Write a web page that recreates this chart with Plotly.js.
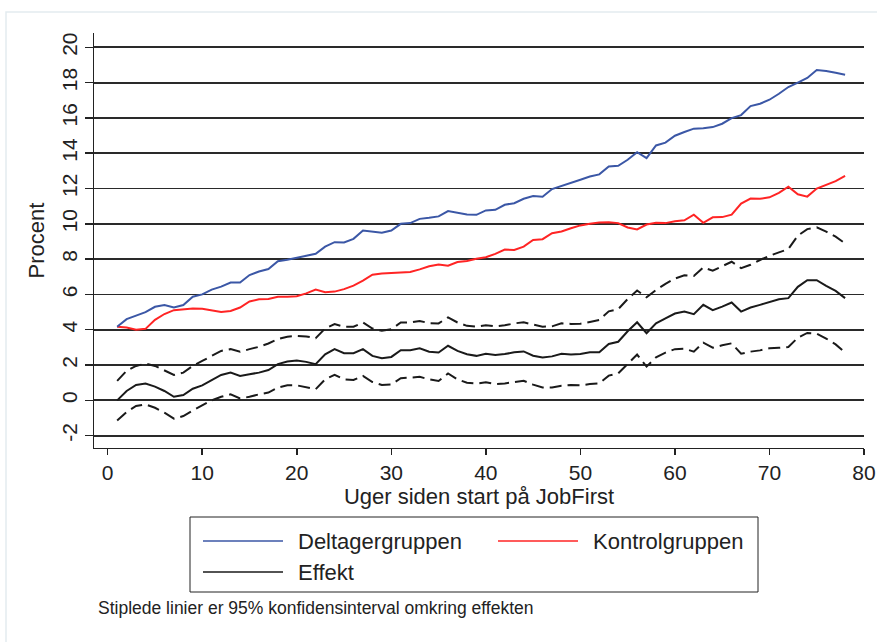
<!DOCTYPE html>
<html>
<head>
<meta charset="utf-8">
<script src="https://cdn.plot.ly/plotly-3.0.1.min.js"></script>
<style>html,body{margin:0;padding:0;background:#fff;}#chart{width:877px;height:642px;}</style>
</head>
<body>
<div id="chart"></div>
<script>
// Weeks since start at JobFirst
const weeks = [];
for (let w = 1; w <= 78; w++) weeks.push(w);

const deltagergruppen = [4.17,4.6,4.8,5.0,5.3,5.4,5.26,5.4,5.87,6.0,6.27,6.44,6.67,6.67,7.1,7.3,7.44,7.88,7.97,8.07,
  8.2,8.3,8.71,8.96,8.94,9.15,9.62,9.58,9.5,9.62,10.0,10.04,10.28,10.34,10.42,10.72,10.62,10.53,10.51,10.76,
  10.79,11.08,11.17,11.42,11.57,11.53,11.97,12.16,12.31,12.5,12.68,12.8,13.25,13.29,13.63,14.06,13.72,14.44,14.6,14.99,
  15.2,15.39,15.41,15.48,15.67,15.99,16.16,16.67,16.8,17.03,17.37,17.75,18.0,18.26,18.71,18.66,18.56,18.45];

const kontrolgruppen = [4.17,4.13,4.0,4.05,4.56,4.89,5.11,5.15,5.2,5.19,5.11,5.0,5.06,5.26,5.6,5.72,5.74,5.87,5.87,5.9,
  6.06,6.27,6.12,6.16,6.3,6.5,6.78,7.12,7.18,7.2,7.22,7.27,7.42,7.6,7.7,7.63,7.84,7.9,8.02,8.11,
  8.3,8.54,8.52,8.71,9.09,9.13,9.47,9.57,9.75,9.91,10.0,10.08,10.09,10.04,9.79,9.68,9.96,10.06,10.04,10.15,
  10.2,10.52,10.06,10.37,10.38,10.52,11.15,11.43,11.42,11.5,11.75,12.1,11.67,11.54,12.0,12.23,12.42,12.72];

const effekt = [0.0,0.53,0.87,0.95,0.78,0.53,0.2,0.3,0.66,0.85,1.14,1.44,1.57,1.38,1.48,1.57,1.72,2.05,2.2,2.25,
  2.18,2.05,2.61,2.9,2.67,2.67,2.9,2.52,2.39,2.46,2.84,2.84,2.95,2.75,2.71,3.09,2.8,2.61,2.52,2.64,
  2.57,2.62,2.72,2.77,2.53,2.43,2.49,2.64,2.59,2.62,2.72,2.72,3.19,3.32,3.91,4.42,3.8,4.36,4.64,4.92,
  5.03,4.88,5.41,5.11,5.31,5.54,5.03,5.26,5.41,5.58,5.73,5.79,6.43,6.81,6.81,6.49,6.2,5.79];

const ciUpper = [1.1,1.67,1.95,2.08,1.95,1.7,1.44,1.57,1.95,2.23,2.52,2.8,2.9,2.75,2.9,3.03,3.22,3.47,3.6,3.65,
  3.62,3.52,4.07,4.32,4.17,4.17,4.41,4.07,3.94,4.03,4.41,4.41,4.5,4.37,4.36,4.7,4.41,4.22,4.17,4.25,
  4.19,4.25,4.36,4.42,4.29,4.17,4.19,4.36,4.33,4.34,4.44,4.55,5.04,5.16,5.74,6.22,5.84,6.25,6.6,6.9,
  7.08,7.04,7.53,7.34,7.6,7.85,7.49,7.68,7.95,8.19,8.38,8.57,9.33,9.7,9.8,9.56,9.27,8.89];

const ciLower = [-1.14,-0.66,-0.32,-0.23,-0.42,-0.7,-1.04,-0.89,-0.57,-0.28,0.0,0.2,0.34,0.11,0.2,0.34,0.44,0.72,0.85,0.85,
  0.76,0.63,1.19,1.44,1.19,1.15,1.38,1.04,0.87,0.9,1.25,1.29,1.33,1.19,1.1,1.52,1.19,1.0,0.95,1.02,
  0.92,0.96,1.05,1.11,0.89,0.73,0.73,0.83,0.87,0.85,0.92,0.96,1.4,1.53,2.06,2.59,1.91,2.44,2.7,2.9,
  2.93,2.76,3.27,2.98,3.12,3.23,2.64,2.76,2.83,2.95,2.98,3.02,3.55,3.82,3.78,3.5,3.17,2.7];

const legendNames = ["Deltagergruppen", "Kontrolgruppen", "Effekt"];
const xTickVals = [0,10,20,30,40,50,60,70,80];
const yTickVals = [-2,0,2,4,6,8,10,12,14,16,18,20];
const xTitle = "Uger siden start på JobFirst";
const yTitle = "Procent";
const noteText = "Stiplede linier er 95% konfidensinterval omkring effekten";

const BLUE = "#3b57a6", RED = "#ff2424", BLACK = "#1a1a1a";
const FONT = "Liberation Sans, Arial, sans-serif";

const traces = [
  {x: weeks, y: ciUpper, mode: "lines", line: {color: BLACK, width: 2, dash: "12px,6px"}, showlegend: false, hoverinfo: "skip"},
  {x: weeks, y: ciLower, mode: "lines", line: {color: BLACK, width: 2, dash: "12px,6px"}, showlegend: false, hoverinfo: "skip"},
  {x: weeks, y: effekt, name: legendNames[2], mode: "lines", line: {color: BLACK, width: 2}, showlegend: false},
  {x: weeks, y: kontrolgruppen, name: legendNames[1], mode: "lines", line: {color: RED, width: 2}, showlegend: false},
  {x: weeks, y: deltagergruppen, name: legendNames[0], mode: "lines", line: {color: BLUE, width: 2}, showlegend: false}
];

// plot area in pixels
const L = 94, R = 13, T = 33, B = 194, W = 877, H = 642;
const PW = W - L - R, PH = H - T - B;
const px = v => (v - L) / PW;
const py = v => (H - B - v) / PH;

const shapes = [
  // faint outer frame
  {type: "rect", xref: "paper", yref: "paper", x0: px(6), x1: px(900), y0: py(12), y1: py(700),
   line: {color: "#e3ebf0", width: 1.5}, layer: "below"},
  // legend box
  {type: "rect", xref: "paper", yref: "paper", x0: px(190), x1: px(758), y0: py(517), y1: py(592),
   line: {color: "#222", width: 1}, fillcolor: "rgba(0,0,0,0)"},
];
const legendItems = [
  {name: legendNames[0], color: BLUE, lx: 203, y: 541},
  {name: legendNames[1], color: RED, lx: 498, y: 541},
  {name: legendNames[2], color: BLACK, lx: 203, y: 572}
];
const annotations = [];
legendItems.forEach(it => {
  shapes.push({type: "line", xref: "paper", yref: "paper", x0: px(it.lx), x1: px(it.lx + 80),
    y0: py(it.y), y1: py(it.y), line: {color: it.color, width: 1.6}});
  annotations.push({xref: "paper", yref: "paper", x: px(it.lx + 93), y: py(it.y), xanchor: "left", yanchor: "middle",
    text: it.name, showarrow: false, font: {family: FONT, size: 22, color: "#222"}});
});
annotations.push({xref: "paper", yref: "paper", x: px(96), y: py(608), xanchor: "left", yanchor: "middle",
  text: noteText, showarrow: false, font: {family: FONT, size: 17.5, color: "#222"}});

const layout = {
  width: W, height: H,
  margin: {l: L, r: R, t: T, b: B},
  paper_bgcolor: "#ffffff", plot_bgcolor: "#ffffff",
  font: {family: FONT, color: "#222"},
  showlegend: false,
  xaxis: {
    range: [-1.45, 80], tickvals: xTickVals, ticktext: xTickVals.map(String),
    showgrid: false, zeroline: false, showline: true, linecolor: "#222", linewidth: 1,
    ticks: "outside", ticklen: 6, tickcolor: "#222", tickwidth: 1.5,
    tickfont: {family: FONT, size: 21, color: "#222"},
    title: {text: xTitle, font: {family: FONT, size: 22, color: "#222"}, standoff: 2}
  },
  yaxis: {
    range: [-2.70, 20.81], tickvals: yTickVals, ticktext: yTickVals.map(String),
    showgrid: true, gridcolor: "#2a2a2a", gridwidth: 1.8, zeroline: false,
    showline: true, linecolor: "#222", linewidth: 1,
    ticks: "outside", ticklen: 8, tickcolor: "#222", tickwidth: 1.5, tickangle: -90,
    tickfont: {family: FONT, size: 21, color: "#222"},
    title: {text: yTitle, font: {family: FONT, size: 22, color: "#222"}, standoff: 6}
  },
  shapes: shapes,
  annotations: annotations
};

Plotly.newPlot("chart", traces, layout, {displayModeBar: false, staticPlot: true});
</script>
</body>
</html>
